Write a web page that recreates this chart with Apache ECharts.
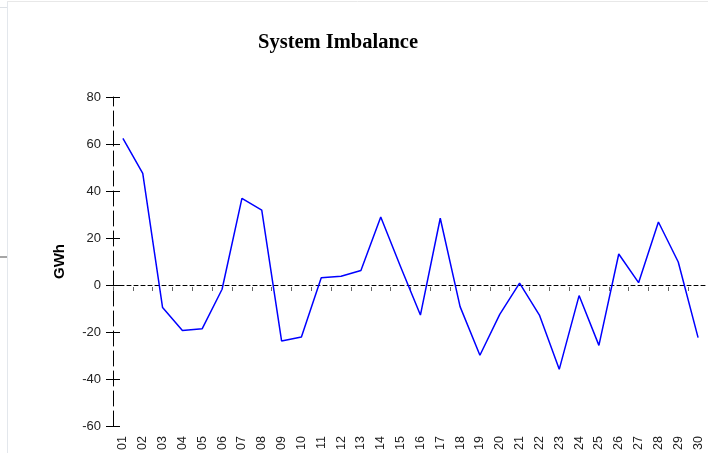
<!DOCTYPE html>
<html>
<head>
<meta charset="utf-8">
<script src="https://cdn.jsdelivr.net/npm/echarts@6/dist/echarts.min.js"></script>
<style>
  html, body { margin: 0; padding: 0; background: #fff; }
  #chart { width: 708px; height: 454px; }
</style>
</head>
<body>
<div id="chart"></div>
<script>
const days = ["01","02","03","04","05","06","07","08","09","10","11","12","13","14","15",
              "16","17","18","19","20","21","22","23","24","25","26","27","28","29","30"];
const imbalance = [62.4, 47.5, -9.6, -19.4, -18.6, -1.8, 36.9, 31.9, -23.8, -22.1,
                   3.1, 3.7, 6.2, 28.9, 7.8, -12.8, 28.4, -9.2, -29.9, -12.5,
                   0.8, -12.8, -35.9, -4.5, -25.7, 13.2, 1.0, 26.8, 9.8, -22.4];
const yMin = -60, yMax = 80, yStep = 20;

const chart = echarts.init(document.getElementById("chart"));

const frame = "#e3e7ec";

chart.setOption({
  animation: false,
  backgroundColor: "#fff",
  title: {
    text: "System Imbalance",
    left: 253,
    top: 27,
    textStyle: { fontFamily: "Liberation Serif", fontWeight: "bold", fontSize: 20.5, color: "#000" }
  },
  grid: { left: 113, width: 598, top: 97, bottom: 28 },
  xAxis: [
    {
      type: "category",
      data: days,
      position: "bottom",
      axisLine: { show: false, onZero: false },
      axisTick: { show: false },
      axisLabel: {
        rotate: 90, margin: 10, interval: 0,
        fontFamily: "Liberation Sans", fontSize: 12.5, color: "#222"
      }
    },
    {
      type: "category",
      data: days,
      position: "bottom",
      axisLine: { show: true, onZero: true, lineStyle: { color: "#000", type: [4, 3], width: 1 } },
      axisTick: { show: true, interval: 0, length: 6, lineStyle: { color: "#666", width: 1, type: [0, 2, 4] } },
      axisLabel: { show: false }
    }
  ],
  yAxis: [
    {
      type: "value",
      min: yMin, max: yMax, interval: yStep,
      name: "GWh",
      nameLocation: "middle",
      nameGap: 46,
      nameTextStyle: { fontFamily: "Liberation Sans", fontWeight: "bold", fontSize: 15, color: "#000" },
      splitLine: { show: false },
      axisLine: { show: true, lineStyle: { color: "#000", type: [15, 5], width: 1 } },
      axisTick: { show: true, length: 7, lineStyle: { color: "#000" } },
      axisLabel: { margin: 12, fontFamily: "Liberation Sans", fontSize: 13, color: "#222" }
    },
    {
      type: "value",
      min: yMin, max: yMax, interval: yStep,
      position: "left",
      splitLine: { show: false },
      axisLine: { show: false },
      axisTick: { show: true, inside: true, length: 7, lineStyle: { color: "#000" } },
      axisLabel: { show: false }
    }
  ],
  series: [
    {
      type: "line",
      data: imbalance,
      xAxisIndex: 0,
      yAxisIndex: 0,
      symbol: "none",
      lineStyle: { color: "#0000ff", width: 1.5 },
      z: 5
    }
  ],
  graphic: [
    { type: "line", shape: { x1: 7.5, y1: 1, x2: 7.5, y2: 453 }, style: { stroke: frame, lineWidth: 1 } },
    { type: "line", shape: { x1: 7, y1: 1.5, x2: 708, y2: 1.5 }, style: { stroke: "#e8e8e8", lineWidth: 1 } },
    { type: "line", shape: { x1: 0, y1: 7.5, x2: 7, y2: 7.5 }, style: { stroke: "#dde1e6", lineWidth: 1 } },
    { type: "line", shape: { x1: 0, y1: 257, x2: 7, y2: 257 }, style: { stroke: "#888", lineWidth: 1.5 } }
  ]
});
</script>
</body>
</html>
